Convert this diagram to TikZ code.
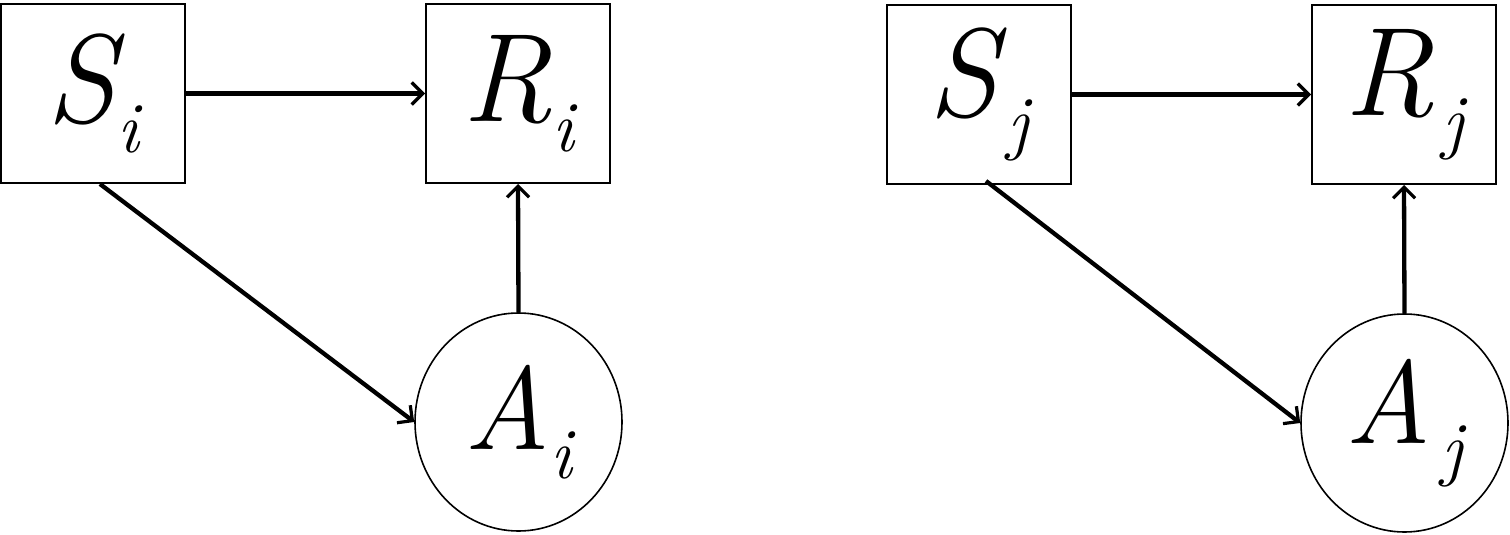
\documentclass[tikz,border=0pt]{standalone}
\usetikzlibrary{shapes.geometric,arrows.meta,calc}
\newcommand{\bigv}[2]{{\itshape\fontsize{126}{126}\selectfont #1\fontsize{72}{72}\selectfont\raisebox{-30pt}{#2}}}
\newcommand{\midv}[2]{{\itshape\fontsize{118}{118}\selectfont #1\fontsize{72}{72}\selectfont\raisebox{-29pt}{#2}}}
\tikzset{
  boxnode/.style={draw, line width=2pt, rectangle, minimum width=184pt, minimum height=179pt, inner sep=0pt},
  circnode/.style={draw, line width=1.6pt, ellipse, minimum width=207pt, minimum height=218pt, inner sep=0pt},
  conn/.style={line width=4.3pt, -{Straight Barb[length=11pt,width=22pt,line width=3.2pt]}}
}
\begin{document}
\begin{tikzpicture}[x=1pt,y=-1pt]
\useasboundingbox (0,0) rectangle (1510,535);
\node[boxnode] (Si) at (93,93.5) {\bigv{S}{\hspace{2pt}i}};
\node[boxnode] (Ri) at (518,93.5) {\bigv{R}{i}};
\node[circnode] (Ai) at (518.5,422) {\midv{A}{i}};
\node[boxnode] (Sj) at (979,94.5) {\bigv{S}{\hspace{10pt}j}};
\node[boxnode] (Rj) at (1404,94.5) {\bigv{R}{\hspace{8pt}j}};
\node[circnode] (Aj) at (1404.5,423) {\midv{A}{\hspace{10pt}j}};
\coordinate (si0) at ($(Si.south)+(7,0)$);
\coordinate (sj0) at ($(Sj.south)+(7,-4)$);
\draw[conn] (Si.east) -- (Ri.west);
\draw[conn] (si0) -- (Ai.west);
\draw[conn] (Ai.north) -- (Ri.south);
\draw[conn] (Sj.east) -- (Rj.west);
\draw[conn] (sj0) -- (Aj.west);
\draw[conn] (Aj.north) -- (Rj.south);
\end{tikzpicture}
\end{document}
